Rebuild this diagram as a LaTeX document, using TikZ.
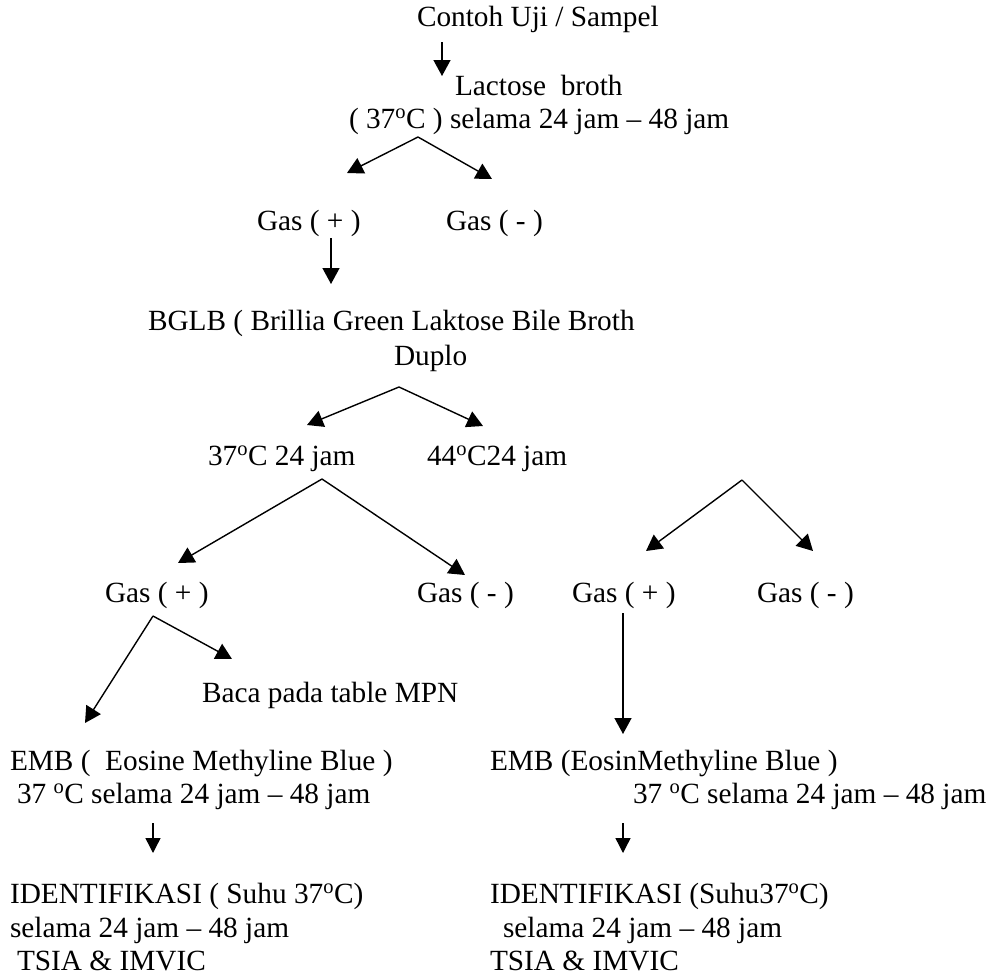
\documentclass[tikz,border=0pt]{standalone}
\usepackage{fontspec}
\setmainfont{Liberation Serif}
\usetikzlibrary{arrows.meta}
\newcommand{\dg}{\textsuperscript{o}}
\begin{document}
\begin{tikzpicture}[x=1pt,y=-1pt,
  lbl/.style={anchor=base west,inner sep=0pt,outer sep=0pt,font=\fontsize{29.3}{34}\selectfont},
  arr/.style={line width=1.4pt,-{Triangle[length=16pt,width=17pt]}},
  sarr/.style={line width=1.4pt,-{Triangle[length=15pt,width=15pt]}}]
\fill[white] (0,0) rectangle (991,977);
\useasboundingbox (0,0) rectangle (991,977);
% texts
\node[lbl] (t1) at (417,27) {Contoh Uji / Sampel};
\node[lbl] (t2) at (455,95) {Lactose~~broth};
\node[lbl] (t3) at (349,128) {( 37\dg C ) selama 24 jam – 48 jam};
\node[lbl] (g1) at (257,230) {Gas ( + )};
\node[lbl] (g2) at (446,230) {Gas ( - )};
\node[lbl] (b1) at (148,330) {BGLB ( Brillia Green Laktose Bile Broth};
\node[lbl] (b2) at (394,365) {Duplo};
\node[lbl] (c1) at (208,465) {37\dg C 24 jam};
\node[lbl] (c2) at (427,465) {44\dg C24 jam};
\node[lbl] (g3) at (105,602) {Gas ( + )};
\node[lbl] (g4) at (417,602) {Gas ( - )};
\node[lbl] (g5) at (572,602) {Gas ( + )};
\node[lbl] (g6) at (757,602) {Gas ( - )};
\node[lbl] (mpn) at (202,702) {Baca pada table MPN};
\node[lbl] (e1) at (10,770) {EMB (~~Eosine Methyline Blue )};
\node[lbl] (e2) at (17,803) {37 \dg C selama 24 jam – 48 jam};
\node[lbl] (e3) at (490,770) {EMB (EosinMethyline Blue )};
\node[lbl] (e4) at (633,803) {37 \dg C selama 24 jam – 48 jam};
\node[lbl] (i1) at (10,903) {IDENTIFIKASI ( Suhu 37\dg C)};
\node[lbl] (i2) at (10,937) {selama 24 jam – 48 jam};
\node[lbl] (i3) at (17,970) {TSIA \& IMVIC};
\node[lbl] (i4) at (490,903) {IDENTIFIKASI (Suhu37\dg C)};
\node[lbl] (i5) at (503,937) {selama 24 jam – 48 jam};
\node[lbl] (i6) at (490,970) {TSIA \& IMVIC};
% connector points
\coordinate (p1a) at (442,42);  \coordinate (p1b) at (442,76);
\coordinate (p2) at (418,137);  \coordinate (p2l) at (347,173); \coordinate (p2r) at (492,179);
\coordinate (p3a) at (331,238); \coordinate (p3b) at (331,284);
\coordinate (p4) at (399,387);  \coordinate (p4l) at (307,425); \coordinate (p4r) at (483,426);
\coordinate (p5) at (322,479);  \coordinate (p5l) at (178,563); \coordinate (p5r) at (465,575);
\coordinate (p6) at (742,480);  \coordinate (p6l) at (646,551); \coordinate (p6r) at (813,551);
\coordinate (p7) at (153,616);  \coordinate (p7l) at (85,723);  \coordinate (p7r) at (232,659);
\coordinate (p8a) at (623,613); \coordinate (p8b) at (623,734);
\coordinate (p9a) at (153,823); \coordinate (p9b) at (153,853);
\coordinate (p10a) at (623,823); \coordinate (p10b) at (623,853);
% connectors
\draw[arr] (p1a) -- (p1b);
\draw[arr] (p2) -- (p2l);
\draw[arr] (p2) -- (p2r);
\draw[arr] (p3a) -- (p3b);
\draw[arr] (p4) -- (p4l);
\draw[arr] (p4) -- (p4r);
\draw[arr] (p5) -- (p5l);
\draw[arr] (p5) -- (p5r);
\draw[arr] (p6) -- (p6l);
\draw[arr] (p6) -- (p6r);
\draw[arr] (p7) -- (p7l);
\draw[arr] (p7) -- (p7r);
\draw[arr] (p8a) -- (p8b);
\draw[sarr] (p9a) -- (p9b);
\draw[sarr] (p10a) -- (p10b);
\end{tikzpicture}
\end{document}
